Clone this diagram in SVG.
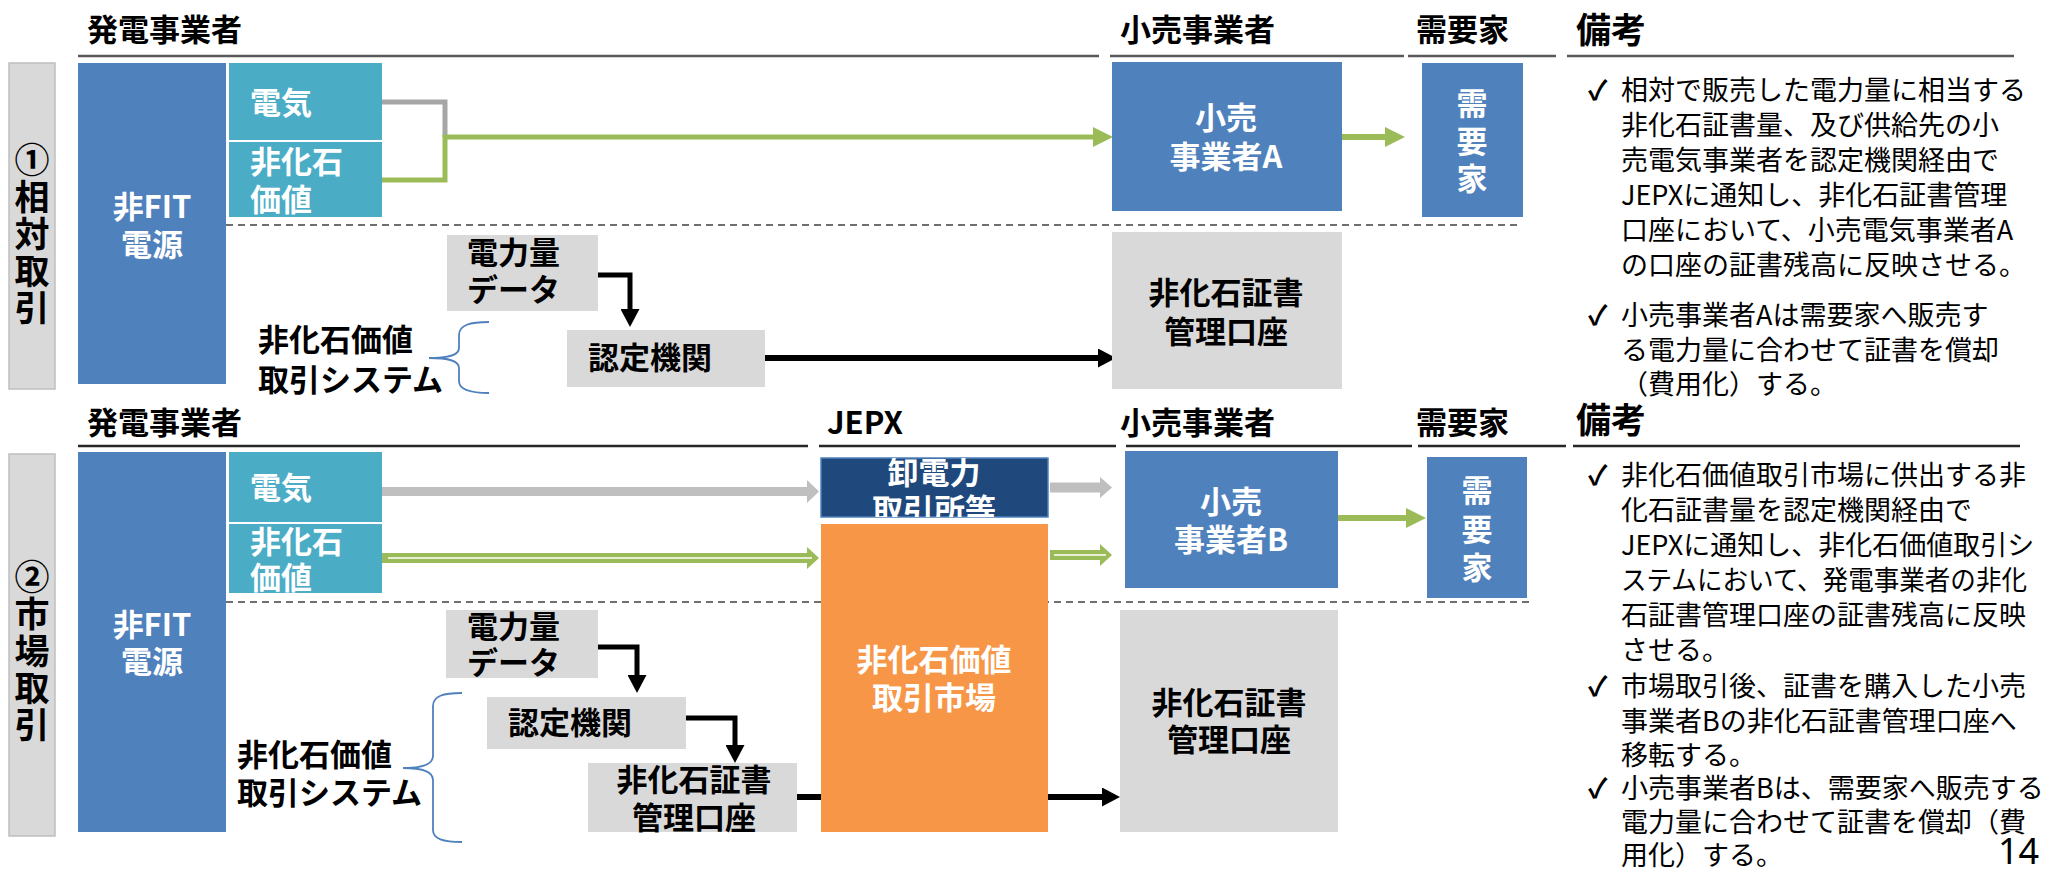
<svg xmlns="http://www.w3.org/2000/svg" width="2055" height="872" viewBox="0 0 2055 872">
<style>
text{font-family:"Noto Sans CJK JP","Noto Sans CJK SC",sans-serif}
.hd{font-size:31px;font-weight:bold;fill:#000}
.bk{font-size:31px;font-weight:bold;fill:#000}
.wt{font-size:31px;font-weight:bold;fill:#fff}
.vl{font-size:35px;font-weight:bold;fill:#000;writing-mode:vertical-rl;letter-spacing:2px}
.vw{font-size:31px;font-weight:bold;fill:#fff;writing-mode:vertical-rl}
.nt{font-size:27px;fill:#000}
.ck{font-size:27px;fill:#000;font-weight:bold}
.c{text-anchor:middle}
.hl{stroke:#595959;stroke-width:2.5;fill:none}
.hl2{stroke:#262626;stroke-width:2.5;fill:none}
.dash{stroke:#404040;stroke-width:1.6;stroke-dasharray:7 5;fill:none}
.brace{stroke:#4f81bd;stroke-width:1.8;fill:none}
.lbl{fill:#d9d9d9;stroke:#bfbfbf;stroke-width:1.5}
.blue{fill:#4f81bd}
.teal{fill:#4bacc6}
.gray{fill:#d9d9d9}
.gl{stroke:#9bbb59;fill:none}
.kl{stroke:#000;fill:none}
</style>
<defs>
<marker id="ag" markerUnits="userSpaceOnUse" markerWidth="20" markerHeight="20" viewBox="0 0 20 20" refX="0" refY="10" orient="auto">
<path d="M0,0 L20,10 L0,20 z" fill="#9bbb59"/>
</marker>
<marker id="ak" markerUnits="userSpaceOnUse" markerWidth="18" markerHeight="19" viewBox="0 0 18 19" refX="0" refY="9.5" orient="auto">
<path d="M0,0 L18,9.5 L0,19 z" fill="#000"/>
</marker>
<clipPath id="jclip"><rect x="821" y="458" width="227" height="59"/></clipPath>
</defs>

<g id="separators">
<path class="hl" d="M78,56 H1099 M1110,56 H1404 M1408,56 H1556 M1567,56 H2014"/>
<path class="hl2" d="M78,446 H808 M819,446 H1116 M1126,446 H1412 M1418,446 H1566 M1573,446 H2020"/>
<path class="dash" d="M226,225 H1520"/>
<path class="dash" d="M226,602 H1530"/>
</g>

<g id="headers">
<text class="hd" x="87" y="41">発電事業者</text>
<text class="hd" x="1120" y="41">小売事業者</text>
<text class="hd" x="1416" y="41">需要家</text>
<text class="hd" x="1576" y="43" style="font-size:35px">備考</text>
<text class="hd" x="87" y="434">発電事業者</text>
<text class="hd" x="827" y="434">JEPX</text>
<text class="hd" x="1120" y="434">小売事業者</text>
<text class="hd" x="1416" y="434">需要家</text>
<text class="hd" x="1576" y="433" style="font-size:35px">備考</text>
</g>

<g id="connectors">
<path class="gl" d="M382,102 H445 V137" style="stroke:#a6a6a6;stroke-width:5"/>
<path class="gl" d="M382,180 H445 V137 H1093" stroke-width="5" marker-end="url(#ag)"/>
<path class="gl" d="M1342,137 H1385" stroke-width="6" marker-end="url(#ag)"/>
<path class="kl" d="M598,275 H630 V309" stroke-width="5" marker-end="url(#ak)"/>
<path class="kl" d="M765,358 H1098" stroke-width="6" marker-end="url(#ak)"/>
<polygon points="382,487 807,487 807,480 819,491.5 807,503 807,496 382,496" fill="#bfbfbf"/>
<polygon points="382,553 807,553 807,547 819,558 807,569 807,563 382,563" fill="#9bbb59"/>
<path d="M388,558 H812" stroke="#fff" stroke-width="1.5"/>
<polygon points="1050,482.5 1100,482.5 1100,477 1112,487.5 1100,498 1100,492.5 1050,492.5" fill="#bfbfbf"/>
<polygon points="1050,550 1100,550 1100,544 1112,555 1100,566 1100,560 1050,560" fill="#9bbb59"/>
<path d="M1054,555 H1106" stroke="#fff" stroke-width="1.5"/>
<path class="gl" d="M1338,518 H1406" stroke-width="6" marker-end="url(#ag)"/>
<path class="kl" d="M598,647 H637 V675" stroke-width="5" marker-end="url(#ak)"/>
<path class="kl" d="M686,718 H735 V745" stroke-width="5" marker-end="url(#ak)"/>
<path class="kl" d="M797,797 H1102" stroke-width="6" marker-end="url(#ak)"/>
</g>

<g id="label-sotai">
<rect class="lbl" x="9" y="63" width="46" height="326"/>
<text class="vl" x="32" y="142">①相対取引</text>
</g>
<g id="nonfit1">
<rect class="blue" x="78" y="63" width="148" height="321"/>
<text class="wt c"><tspan x="152" y="218">非FIT</tspan><tspan x="152" y="256">電源</tspan></text>
</g>
<g id="denki1">
<rect class="teal" x="229" y="63" width="153" height="77"/>
<text class="wt" x="250" y="114">電気</text>
</g>
<g id="hikaseki1">
<rect class="teal" x="229" y="142" width="153" height="75"/>
<text class="wt"><tspan x="250" y="173">非化石</tspan><tspan x="250" y="211">価値</tspan></text>
</g>
<g id="data1">
<rect class="gray" x="447" y="235" width="151" height="76"/>
<text class="bk"><tspan x="467" y="264">電力量</tspan><tspan x="467" y="301">データ</tspan></text>
</g>
<g id="nintei1">
<rect class="gray" x="567" y="330" width="198" height="57"/>
<text class="bk" x="588" y="369">認定機関</text>
</g>
<g id="system1">
<path class="brace" d="M489,322 C470,322 459,325 459,335 V348 C459,355 450,358 429,358 C450,358 459,361 459,368 V381 C459,390 470,393 489,393"/>
<text class="bk"><tspan x="258" y="351">非化石価値</tspan><tspan x="258" y="391">取引システム</tspan></text>
</g>
<g id="retailA">
<rect class="blue" x="1112" y="62" width="230" height="149"/>
<text class="wt c"><tspan x="1226" y="129">小売</tspan><tspan x="1226" y="168">事業者A</tspan></text>
</g>
<g id="juyo1">
<rect class="blue" x="1422" y="63" width="101" height="154"/>
<text class="vw" x="1472" y="88" style="letter-spacing:6.5px">需要家</text>
</g>
<g id="cert1">
<rect class="gray" x="1112" y="232" width="230" height="157"/>
<text class="bk c"><tspan x="1226" y="304">非化石証書</tspan><tspan x="1226" y="343">管理口座</tspan></text>
</g>
<g id="notes1">
<text class="ck"><tspan x="1588" y="100">✓</tspan><tspan x="1588" y="325">✓</tspan></text>
<text class="nt"><tspan x="1621" y="100">相対で販売した電力量に相当する</tspan><tspan x="1621" y="135">非化石証書量、及び供給先の小</tspan><tspan x="1621" y="170">売電気事業者を認定機関経由で</tspan><tspan x="1621" y="205">JEPXに通知し、非化石証書管理</tspan><tspan x="1621" y="240">口座において、小売電気事業者A</tspan><tspan x="1621" y="275">の口座の証書残高に反映させる。</tspan></text>
<text class="nt"><tspan x="1621" y="325">小売事業者Aは需要家へ販売す</tspan><tspan x="1621" y="360">る電力量に合わせて証書を償却</tspan><tspan x="1621" y="394">（費用化）する。</tspan></text>
</g>

<g id="label-shijo">
<rect class="lbl" x="9" y="454" width="46" height="382"/>
<text class="vl" x="32" y="559">②市場取引</text>
</g>
<g id="nonfit2">
<rect class="blue" x="78" y="452" width="148" height="380"/>
<text class="wt c"><tspan x="152" y="636">非FIT</tspan><tspan x="152" y="673">電源</tspan></text>
</g>
<g id="denki2">
<rect class="teal" x="229" y="452" width="153" height="70"/>
<text class="wt" x="250" y="499">電気</text>
</g>
<g id="hikaseki2">
<rect class="teal" x="229" y="524" width="153" height="69"/>
<text class="wt"><tspan x="250" y="553">非化石</tspan><tspan x="250" y="589">価値</tspan></text>
</g>
<g id="data2">
<rect class="gray" x="446" y="610" width="152" height="68"/>
<text class="bk"><tspan x="467" y="638">電力量</tspan><tspan x="467" y="674">データ</tspan></text>
</g>
<g id="nintei2">
<rect class="gray" x="487" y="697" width="199" height="52"/>
<text class="bk" x="508" y="734">認定機関</text>
</g>
<g id="certgen">
<rect class="gray" x="588" y="763" width="209" height="69"/>
<text class="bk c"><tspan x="694" y="791">非化石証書</tspan><tspan x="694" y="829">管理口座</tspan></text>
</g>
<g id="system2">
<path class="brace" d="M462,693 C443,693 433,696 433,706 V756 C433,763 425,768 403,768 C425,768 433,773 433,780 V830 C433,839 443,842 462,842"/>
<text class="bk"><tspan x="237" y="766">非化石価値</tspan><tspan x="237" y="804">取引システム</tspan></text>
</g>
<g id="jepx">
<rect x="821" y="458" width="227" height="59" fill="#1f497d" stroke="#4f81bd" stroke-width="1.5"/>
<g clip-path="url(#jclip)">
<text class="wt c"><tspan x="934" y="484">卸電力</tspan><tspan x="934" y="521">取引所等</tspan></text>
</g>
</g>
<g id="market">
<rect x="821" y="524" width="227" height="308" fill="#f79646"/>
<text class="wt c"><tspan x="934" y="671">非化石価値</tspan><tspan x="934" y="709">取引市場</tspan></text>
</g>
<g id="retailB">
<rect class="blue" x="1125" y="451" width="213" height="137"/>
<text class="wt c"><tspan x="1231" y="513">小売</tspan><tspan x="1231" y="551">事業者B</tspan></text>
</g>
<g id="juyo2">
<rect class="blue" x="1427" y="457" width="100" height="141"/>
<text class="vw" x="1477" y="475" style="letter-spacing:7.5px">需要家</text>
</g>
<g id="cert2">
<rect class="gray" x="1120" y="610" width="218" height="222"/>
<text class="bk c"><tspan x="1229" y="714">非化石証書</tspan><tspan x="1229" y="751">管理口座</tspan></text>
</g>
<g id="notes2">
<text class="ck"><tspan x="1588" y="485">✓</tspan><tspan x="1588" y="696">✓</tspan><tspan x="1588" y="798">✓</tspan></text>
<text class="nt"><tspan x="1621" y="485">非化石価値取引市場に供出する非</tspan><tspan x="1621" y="520">化石証書量を認定機関経由で</tspan><tspan x="1621" y="555">JEPXに通知し、非化石価値取引シ</tspan><tspan x="1621" y="590" textLength="406" lengthAdjust="spacingAndGlyphs">ステムにおいて、発電事業者の非化</tspan><tspan x="1621" y="625">石証書管理口座の証書残高に反映</tspan><tspan x="1621" y="660">させる。</tspan></text>
<text class="nt"><tspan x="1621" y="696">市場取引後、証書を購入した小売</tspan><tspan x="1621" y="731">事業者Bの非化石証書管理口座へ</tspan><tspan x="1621" y="765">移転する。</tspan></text>
<text class="nt"><tspan x="1621" y="798">小売事業者Bは、需要家へ販売する</tspan><tspan x="1621" y="832">電力量に合わせて証書を償却（費</tspan><tspan x="1621" y="865">用化）する。</tspan></text>
<text x="1998" y="864" style="font-family:'Noto Sans',sans-serif;font-size:36px">14</text>
</g>
</svg>
